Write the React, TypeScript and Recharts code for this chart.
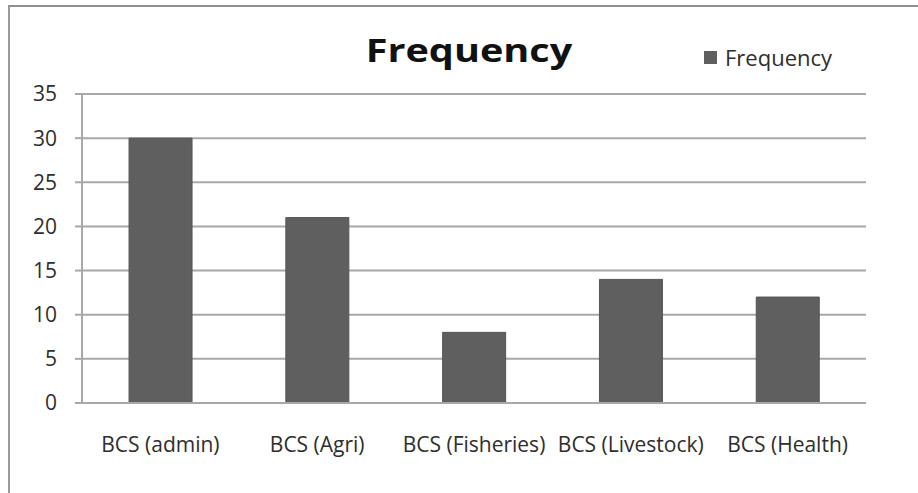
import React from "react";
import { BarChart, Bar, XAxis, YAxis, CartesianGrid, Legend } from "recharts";

const categories = ["BCS (admin)", "BCS (Agri)", "BCS (Fisheries)", "BCS (Livestock)", "BCS (Health)"];
const frequency = [30, 21, 8, 14, 12];
const yTicks = [0, 5, 10, 15, 20, 25, 30, 35];
const boundaryTicks = [0, 1, 2, 3, 4, 5];

const data = categories.map((c, i) => ({ name: c, Frequency: frequency[i] }));

const FONT = "'Open Sans', 'DejaVu Sans', sans-serif";
const GRID = "#a8a8a8";
const BAR = "#5f5f5f";
const TEXT = "#2e2e2e";

const LegendContent = (props: any) => {
  const items = props.payload || [];
  return (
    <div style={{ display: "flex", alignItems: "center" }}>
      {items.map((it: any) => (
        <div key={it.value} style={{ display: "flex", alignItems: "center" }}>
          <span style={{ display: "inline-block", width: 13, height: 13, background: BAR, marginRight: 8 }} />
          <span style={{ fontFamily: FONT, fontSize: 22, color: TEXT, lineHeight: 1 }}>{it.value}</span>
        </div>
      ))}
    </div>
  );
};

export default function App() {
  return (
    <div style={{ position: "absolute", left: 0, top: 0, width: 918, height: 493, background: "#fff", overflow: "hidden" }}>
      <div
        style={{
          position: "absolute",
          left: 8,
          top: 5,
          width: 930,
          height: 520,
          borderTop: "2px solid #8f8f8f",
          borderLeft: "2px solid #9a9a9a",
        }}
      />
      <div
        style={{
          position: "absolute",
          left: 0,
          width: 938,
          top: 33,
          textAlign: "center",
          fontFamily: FONT,
          fontWeight: 700,
          fontSize: 33,
          lineHeight: 1,
          color: "#111",
          transform: "scaleX(1.2)",
          transformOrigin: "469px 0",
        }}
      >
        Frequency
      </div>
      <div style={{ position: "absolute", left: 0, top: 0 }}>
        <BarChart
          width={918}
          height={493}
          data={data}
          margin={{ top: 94, right: 52, bottom: 30, left: 0 }}
          barCategoryGap="30%"
        >
          <CartesianGrid vertical={false} stroke={GRID} strokeWidth={2} />
          <XAxis
            xAxisId="bounds"
            type="number"
            dataKey={() => 0}
            domain={[0, 5]}
            ticks={boundaryTicks}
            height={0}
            axisLine={false}
            tick={false}
            tickSize={8}
            tickLine={{ stroke: GRID, strokeWidth: 2 }}
            allowDataOverflow
          />
          <XAxis
            dataKey="name"
            height={60}
            interval={0}
            axisLine={{ stroke: GRID, strokeWidth: 2 }}
            tickLine={false}
            tickSize={0}
            tickMargin={34}
            tick={{ fill: TEXT, fontFamily: FONT, fontSize: 21 }}
          />
          <YAxis
            width={82}
            domain={[0, 35]}
            ticks={yTicks}
            interval={0}
            axisLine={{ stroke: GRID, strokeWidth: 2 }}
            tickLine={{ stroke: GRID, strokeWidth: 2 }}
            tickSize={7}
            tickMargin={18}
            tick={{ fill: TEXT, fontFamily: FONT, fontSize: 21 }}
          />
          <Legend
            layout="vertical"
            align="center"
            verticalAlign="middle"
            content={<LegendContent />}
            wrapperStyle={{ left: 704, top: 46, width: 170, height: 24 }}
          />
          <Bar dataKey="Frequency" fill={BAR} stroke="#555" strokeWidth={1} isAnimationActive={false} />
        </BarChart>
      </div>
    </div>
  );
}
